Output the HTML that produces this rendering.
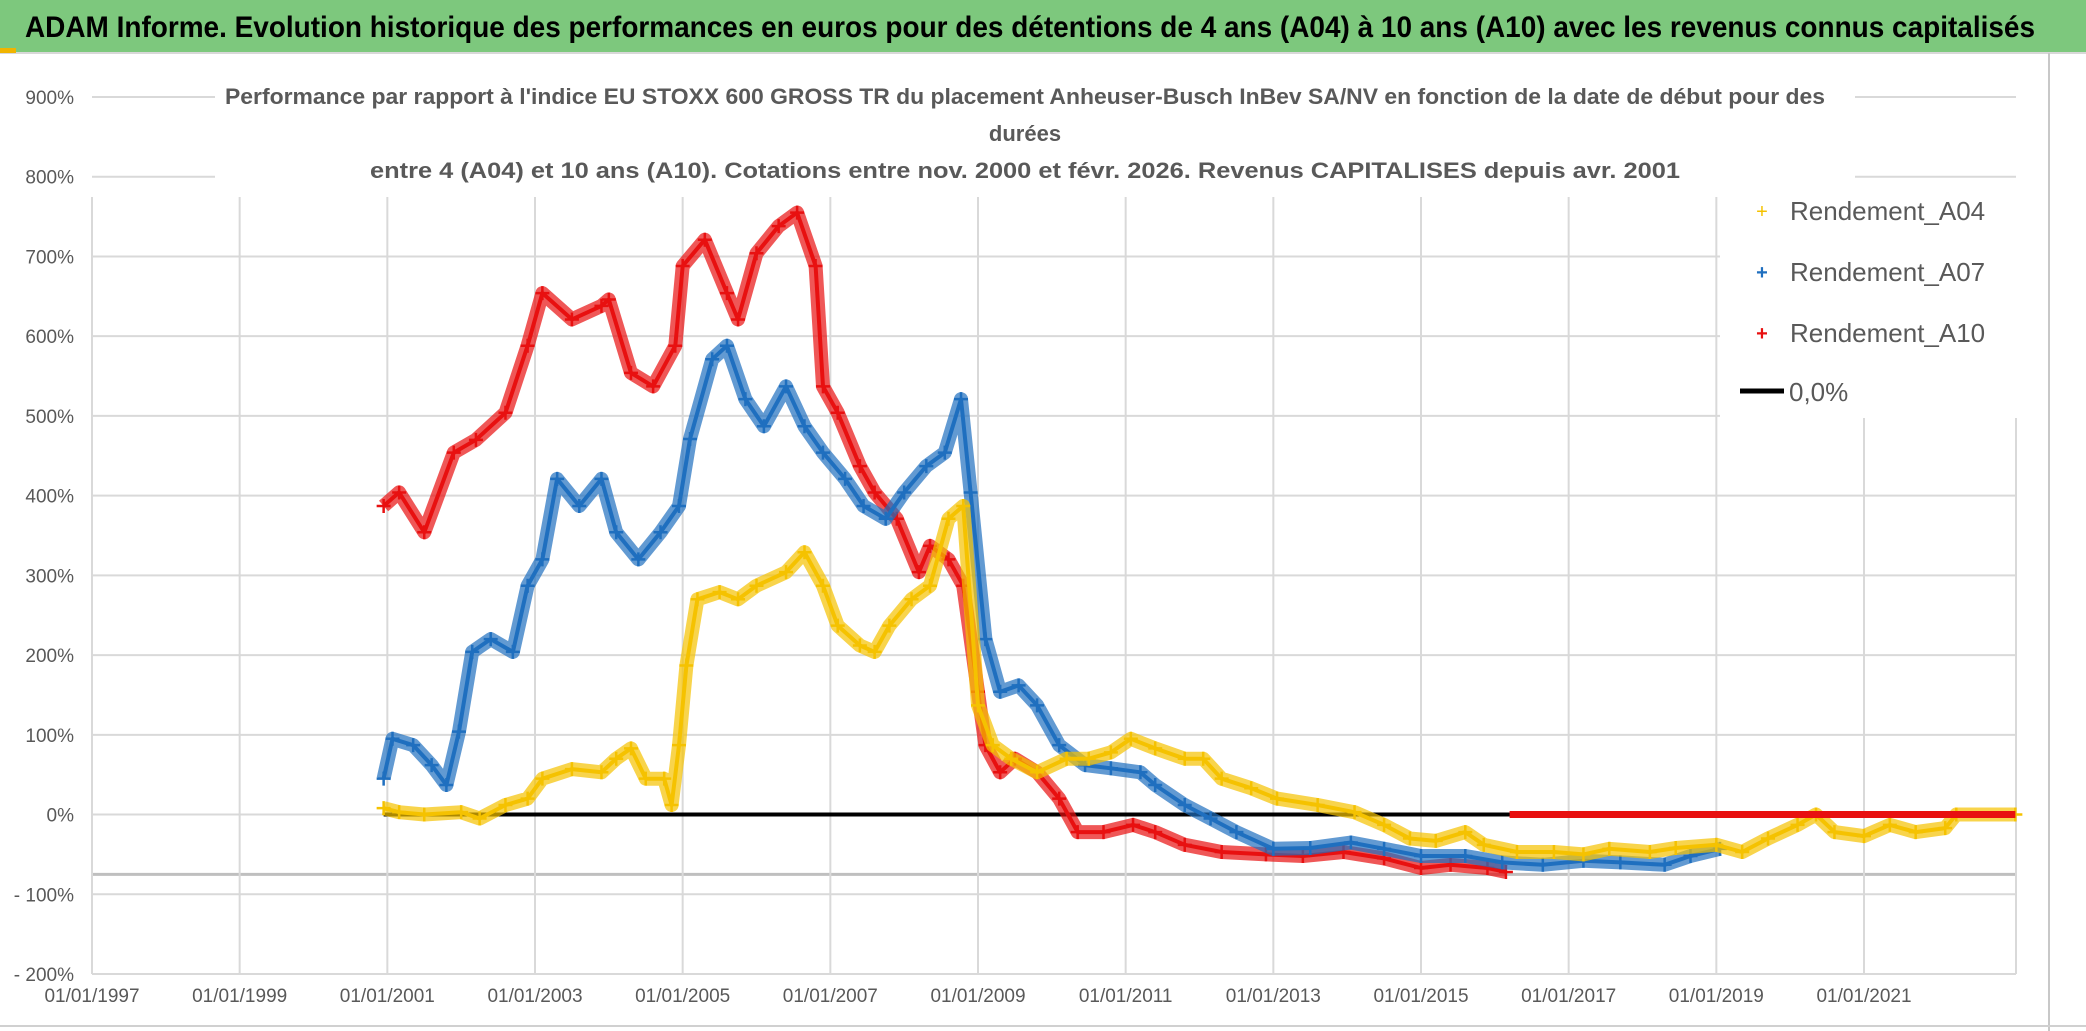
<!DOCTYPE html>
<html><head><meta charset="utf-8"><style>
html,body{margin:0;padding:0;background:#fff;}
svg{display:block;font-family:"Liberation Sans",sans-serif;}
</style></head><body>
<svg id="chart" width="2086" height="1031" viewBox="0 0 2086 1031">
<rect x="0" y="0" width="2086" height="1031" fill="#fff"/>
<rect x="0" y="0" width="2086" height="52" fill="#7dc87d"/>
<line x1="0" y1="53" x2="2086" y2="53" stroke="#d8d8d8" stroke-width="2"/>
<rect x="0" y="48" width="16" height="5" fill="#f0b400"/>
<text x="1030" y="37" text-anchor="middle" font-size="30" font-weight="bold" fill="#000" textLength="2010" lengthAdjust="spacingAndGlyphs">ADAM Informe. Evolution historique des performances en euros pour des détentions de 4 ans (A04) à 10 ans (A10) avec les revenus connus capitalisés</text>
<line x1="2049" y1="53" x2="2049" y2="1031" stroke="#c8c8c8" stroke-width="2"/>
<line x1="0" y1="1026" x2="2086" y2="1026" stroke="#d0d0d0" stroke-width="2"/>
<g id="grid"></g>
<g id="yticks"></g>
<g id="xticks"></g>
<rect x="215" y="80" width="1640" height="116" fill="#fff"/>
<g font-size="22" font-weight="bold" fill="#595959" text-anchor="middle">
<text x="1025" y="104" textLength="1600" lengthAdjust="spacingAndGlyphs">Performance par rapport à l'indice EU STOXX 600 GROSS TR  du placement Anheuser-Busch InBev SA/NV en fonction de la date de début pour des</text>
<text x="1025" y="141">durées</text>
<text x="1025" y="178" textLength="1310" lengthAdjust="spacingAndGlyphs">entre 4 (A04) et 10 ans (A10). Cotations entre nov. 2000 et févr. 2026. Revenus CAPITALISES depuis avr. 2001</text>
</g>
<g id="series"></g>
<rect x="1720" y="186" width="300" height="232" fill="#fff"/>
<g font-size="26" fill="#595959">
<g><text x="1762" y="218" fill="#f5c200" font-size="20" text-anchor="middle">+</text><text x="1790" y="220">Rendement_A04</text></g>
<g><text x="1762" y="279" fill="#1f6fbf" font-size="20" text-anchor="middle" font-weight="bold">+</text><text x="1790" y="281">Rendement_A07</text></g>
<g><text x="1762" y="340" fill="#e81010" font-size="20" text-anchor="middle" font-weight="bold">+</text><text x="1790" y="342">Rendement_A10</text></g>
<g><line x1="1740" y1="391" x2="1784" y2="391" stroke="#000" stroke-width="5"/><text x="1789" y="401">0,0%</text></g>
</g>
</svg>
<script>
const yTicks=[900,800,700,600,500,400,300,200,100,0,-100,-200];
const yTickLabels=["900%","800%","700%","600%","500%","400%","300%","200%","100%","0%","- 100%","- 200%"];
const xTicks=[1997,1999,2001,2003,2005,2007,2009,2011,2013,2015,2017,2019,2021];
const xTickLabels=["01/01/1997","01/01/1999","01/01/2001","01/01/2003","01/01/2005","01/01/2007","01/01/2009","01/01/2011","01/01/2013","01/01/2015","01/01/2017","01/01/2019","01/01/2021"];
const a10Dates=[2000.95,2001.16,2001.5,2001.9,2002.2,2002.6,2002.9,2003.1,2003.5,2003.9,2004.0,2004.3,2004.6,2004.9,2005.0,2005.3,2005.6,2005.75,2006.0,2006.3,2006.55,2006.8,2006.9,2007.1,2007.4,2007.6,2007.9,2008.2,2008.35,2008.6,2008.8,2009.0,2009.1,2009.3,2009.5,2009.8,2010.1,2010.35,2010.7,2011.1,2011.4,2011.8,2012.3,2012.9,2013.4,2013.95,2014.5,2015.0,2015.4,2015.9,2016.15];
const a10Values=[387,404,354,454,470,504,588,654,621,638,646,554,537,588,688,721,654,621,704,738,755,688,537,504,437,404,371,304,337,320,287,154,87,53,70,53,20,-22,-22,-13,-22,-38,-47,-50,-52,-47,-55,-67,-63,-67,-72];
const a07Dates=[2000.95,2001.07,2001.35,2001.6,2001.8,2001.97,2002.15,2002.4,2002.7,2002.9,2003.1,2003.3,2003.6,2003.9,2004.1,2004.4,2004.7,2004.95,2005.1,2005.4,2005.6,2005.85,2006.1,2006.4,2006.65,2006.9,2007.2,2007.45,2007.75,2008.0,2008.3,2008.55,2008.77,2008.9,2009.1,2009.3,2009.55,2009.8,2010.1,2010.45,2010.8,2011.2,2011.4,2011.8,2012.15,2012.5,2013.0,2013.5,2014.05,2014.5,2015.0,2015.6,2016.1,2016.65,2017.2,2017.7,2018.3,2018.65,2019.05];
const a07Values=[45,95,87,62,37,104,204,220,204,287,320,421,387,421,354,320,354,387,471,571,588,521,487,537,487,454,421,387,371,404,437,454,521,404,220,154,162,137,87,62,58,53,37,12,-5,-22,-43,-42,-35,-43,-52,-52,-60,-63,-58,-60,-63,-52,-43];
const a04Dates=[2000.95,2001.16,2001.5,2002.0,2002.25,2002.6,2002.9,2003.1,2003.5,2003.9,2004.1,2004.3,2004.5,2004.75,2004.85,2004.95,2005.05,2005.2,2005.5,2005.75,2006.0,2006.4,2006.65,2006.9,2007.1,2007.4,2007.6,2007.8,2008.1,2008.35,2008.6,2008.8,2009.0,2009.2,2009.45,2009.8,2010.2,2010.5,2010.8,2011.07,2011.4,2011.8,2012.05,2012.3,2012.7,2013.05,2013.6,2014.1,2014.5,2014.85,2015.2,2015.6,2015.85,2016.3,2016.8,2017.2,2017.55,2018.1,2018.45,2019.0,2019.35,2019.7,2020.1,2020.35,2020.6,2021.0,2021.35,2021.7,2022.1,2022.25,2023.05];
const a04Values=[8,3,0,3,-5,12,20,45,57,53,70,83,45,45,12,87,187,270,279,270,287,304,329,287,237,212,204,237,270,287,371,387,137,87,70,53,70,70,78,95,83,70,70,45,33,20,12,3,-13,-30,-33,-22,-38,-47,-47,-50,-43,-47,-42,-38,-47,-30,-13,0,-22,-27,-13,-22,-17,0,0];
const zeroStart=2000.95, zeroEnd=2023.05, redZeroStart=2016.2;

const NS="http://www.w3.org/2000/svg";
const X0=92, X1=2016, Y0=97, Y1=974;
function xs(yr){return X0+(yr-1997)*(1864-92)/24;}
function ys(v){return Y0+(900-v)*(Y1-Y0)/1100;}
function mk(tag,attrs,parent){const e=document.createElementNS(NS,tag);for(const k in attrs)e.setAttribute(k,attrs[k]);parent.appendChild(e);return e;}
const grid=document.getElementById('grid'),yt=document.getElementById('yticks'),xt=document.getElementById('xticks'),ser=document.getElementById('series');
yTicks.forEach((v,i)=>{
  const l=mk('line',{x1:X0,x2:X1,y1:ys(v),y2:ys(v),stroke:'#d9d9d9','stroke-width':2},grid);
  
  
  const t=mk('text',{x:74,y:ys(v)+7,'text-anchor':'end','font-size':19,fill:'#595959'},yt);
  t.textContent=yTickLabels[i];
  
  
});
const extra=mk('line',{x1:X0,x2:X1,y1:ys(-75),y2:ys(-75),stroke:'#bfbfbf','stroke-width':3},grid);


xTicks.forEach((yr,i)=>{
  const l=mk('line',{x1:xs(yr),x2:xs(yr),y1:197,y2:Y1,stroke:'#d9d9d9','stroke-width':2},grid);
  
  
  const t=mk('text',{x:xs(yr),y:1002,'text-anchor':'middle','font-size':19,fill:'#595959'},xt);
  t.textContent=xTickLabels[i];
  
  
});
mk('line',{x1:X1,x2:X1,y1:197,y2:Y1,stroke:'#d9d9d9','stroke-width':2},grid);
function drawSeries(dates,vals,color,name){
  const g=mk('g',{},ser);
  
  
  const pts=dates.map((d,i)=>xs(d).toFixed(1)+','+ys(vals[i]).toFixed(1)).join(' ');
  mk('polyline',{points:pts,fill:'none',stroke:color,'stroke-width':14,'stroke-linejoin':'round','stroke-opacity':0.7},g);
  mk('polyline',{points:pts,fill:'none',stroke:color,'stroke-width':4,'stroke-linejoin':'round'},g);
  dates.forEach((d,i)=>{
    const x=xs(d),y=ys(vals[i]);
    const p=mk('path',{d:`M${x-7},${y}H${x+7}M${x},${y-7}V${y+7}`,stroke:color,'stroke-width':2.5},g);
    
    
  });
}
const z=mk('line',{x1:xs(zeroStart),x2:xs(zeroEnd),y1:ys(0),y2:ys(0),stroke:'#000','stroke-width':4},ser);


drawSeries(a10Dates,a10Values,'#e81010','series-a10');
drawSeries(a07Dates,a07Values,'#1f6fbf','series-a07');
drawSeries(a04Dates,a04Values,'#f5c200','series-a04');
const rz=mk('line',{x1:xs(redZeroStart),x2:xs(zeroEnd),y1:ys(0),y2:ys(0),stroke:'#e81010','stroke-width':7},ser);


</script>
</body></html>
